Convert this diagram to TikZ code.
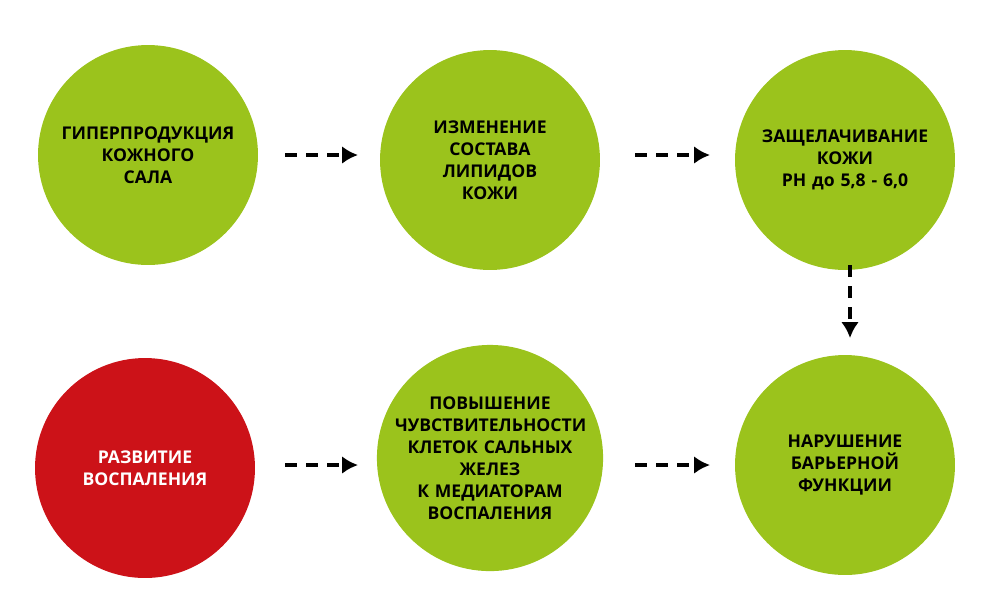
\documentclass[tikz,border=0pt]{standalone}
\usepackage{fontspec}
\setmainfont{Open Sans}
\usetikzlibrary{positioning}
\usetikzlibrary{arrows.meta}
\definecolor{leaf}{RGB}{155,195,28}
\definecolor{alarm}{RGB}{204,18,24}
\tikzstyle{stage}=[circle, fill=leaf, minimum size=4.4cm, inner sep=0pt,
    align=center, font=\bfseries\fontsize{10}{12.5}\selectfont, text width=3.8cm]
\tikzstyle{stage_red}=[stage, fill=alarm, text=white]
\tikzstyle{flow}=[line width=2.6pt, dash pattern=on 7pt off 5pt, -{Latex[length=9pt,width=10pt]}]
\begin{document}
\begin{tikzpicture}[x=0.02cm, y=-0.02cm]
  \useasboundingbox (0,0) rectangle (1000,600);
  \node[stage] (sebum) at (148,155){ГИПЕРПРОДУКЦИЯ\\КОЖНОГО\\САЛА};
  \node[stage] (lipids) at (490,160){ИЗМЕНЕНИЕ\\СОСТАВА\\ЛИПИДОВ\\КОЖИ};
  \node[stage] (alkal) at (845,160){ЗАЩЕЛАЧИВАНИЕ\\КОЖИ\\РН до 5,8 - 6,0};
  \node[stage_red] (inflam) at (145,468){РАЗВИТИЕ\\ВОСПАЛЕНИЯ};
  \node[stage] (sensit) at (490,458){ПОВЫШЕНИЕ\\ЧУВСТВИТЕЛЬНОСТИ\\КЛЕТОК САЛЬНЫХ\\ЖЕЛЕЗ\\К МЕДИАТОРАМ\\ВОСПАЛЕНИЯ};
  \node[stage] (barrier) at (845,465){НАРУШЕНИЕ\\БАРЬЕРНОЙ\\ФУНКЦИИ};
  \coordinate (a1) at (285,155); \coordinate (b1) at (358,155);
  \coordinate (a2) at (635,155); \coordinate (b2) at (710,155);
  \coordinate (a3) at (850,265); \coordinate (b3) at (850,338);
  \coordinate (a4) at (285,465); \coordinate (b4) at (358,465);
  \coordinate (a5) at (635,465); \coordinate (b5) at (710,465);
  \draw[flow] (a1) -- (b1);
  \draw[flow] (a2) -- (b2);
  \draw[flow] (a3) -- (b3);
  \draw[flow] (a4) -- (b4);
  \draw[flow] (a5) -- (b5);
\end{tikzpicture}
\end{document}
